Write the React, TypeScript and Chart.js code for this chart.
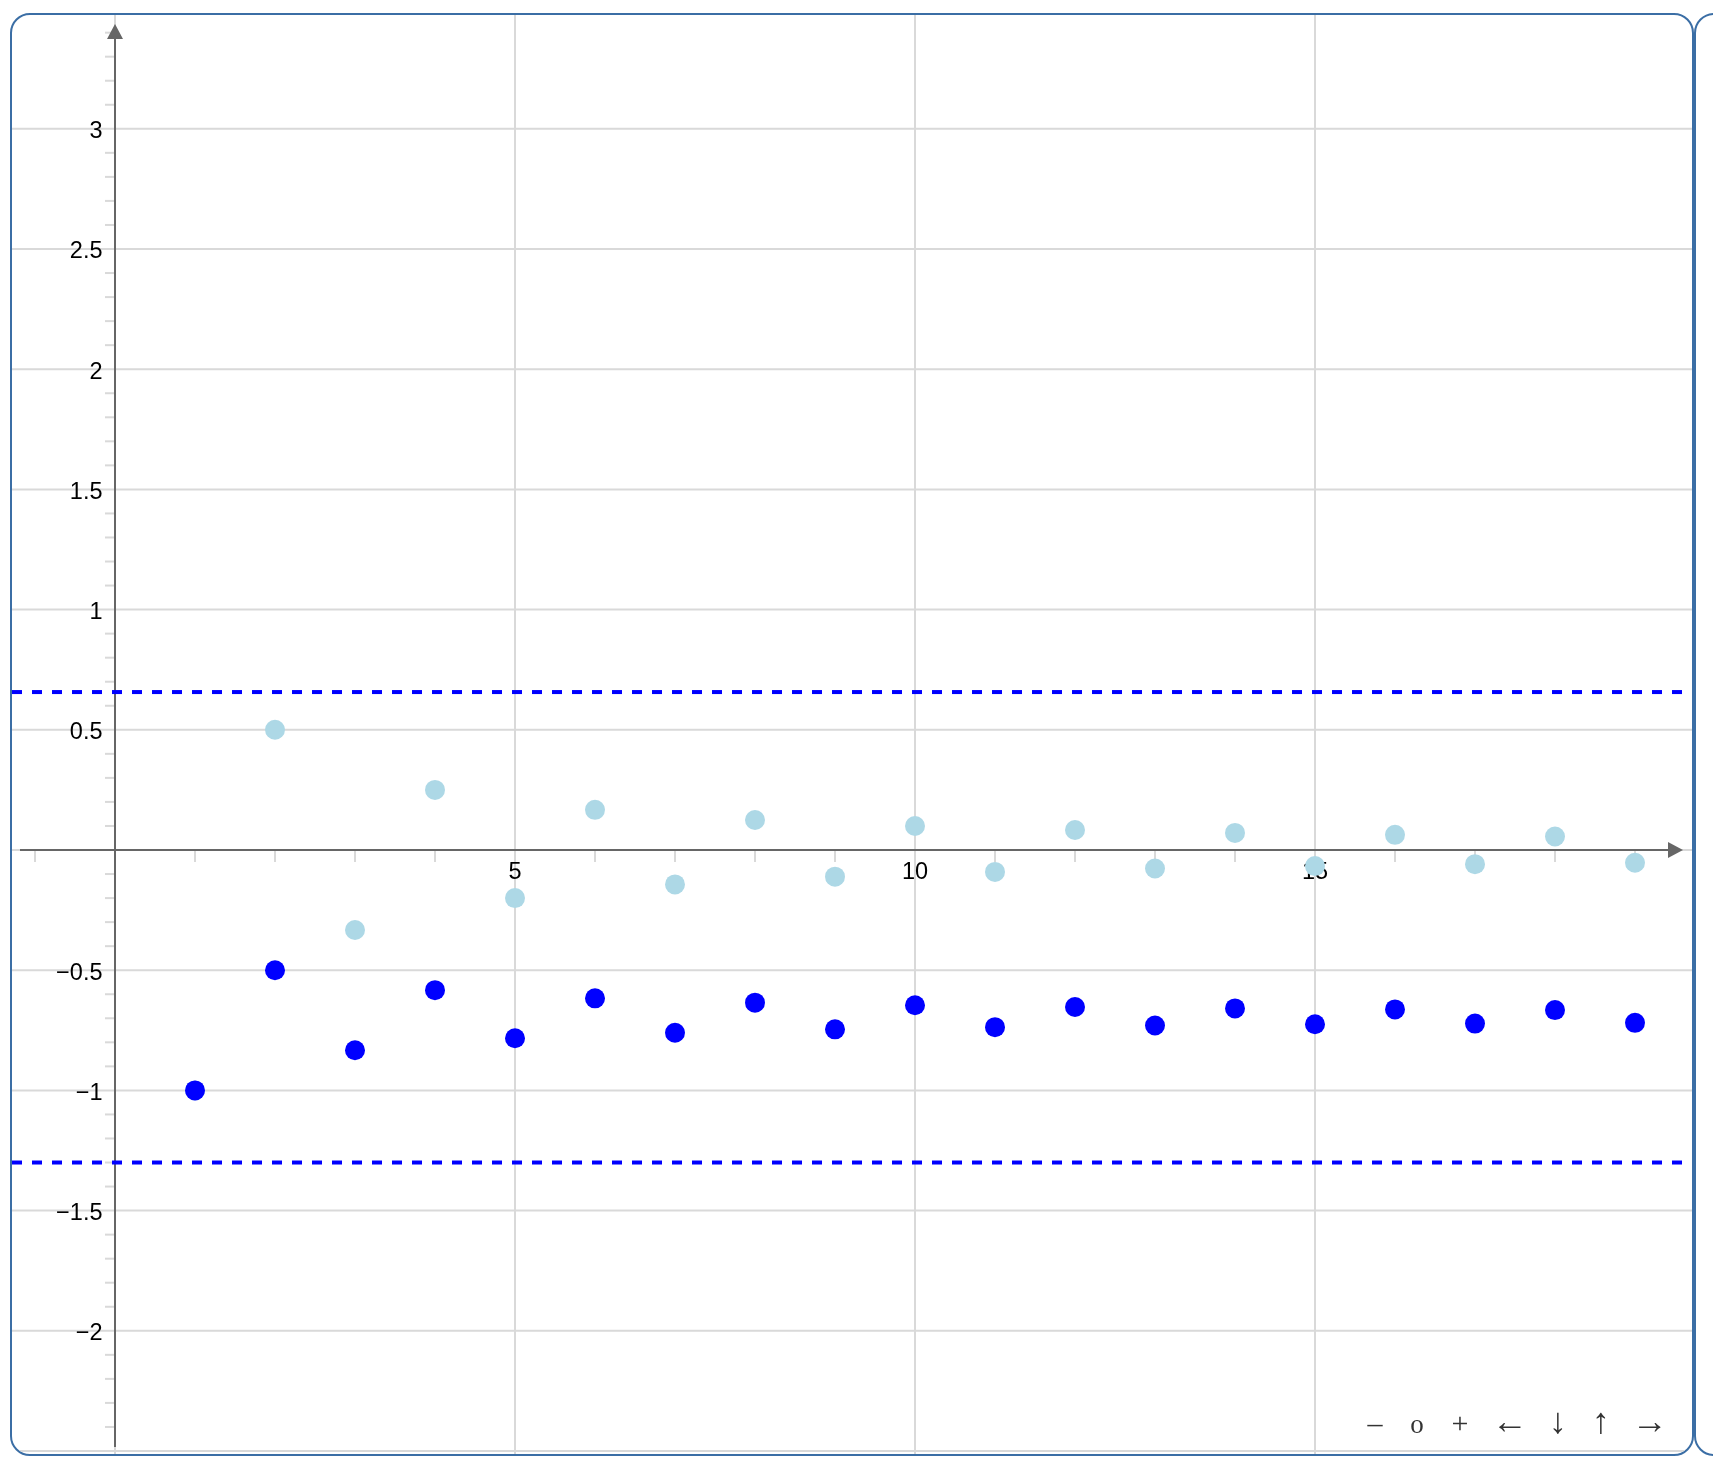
import React, { useEffect, useRef } from "react";
import { Chart, registerables } from "chart.js";

Chart.register(...registerables);

// ---- data ----
const indices = [1, 2, 3, 4, 5, 6, 7, 8, 9, 10, 11, 12, 13, 14, 15, 16, 17, 18, 19];
const termValues = [
  -1, 0.5, -0.333, 0.25, -0.2, 0.167, -0.143, 0.125, -0.111, 0.1, -0.091, 0.083,
  -0.077, 0.071, -0.067, 0.063, -0.059, 0.056, -0.053,
];
const partialSums = [
  -1, -0.5, -0.833, -0.583, -0.783, -0.617, -0.76, -0.635, -0.746, -0.646, -0.737,
  -0.653, -0.73, -0.659, -0.725, -0.663, -0.722, -0.666, -0.719,
];
const upperBound = 0.657;
const lowerBound = -1.3;
const yTickValues = [3, 2.5, 2, 1.5, 1, 0.5, -0.5, -1, -1.5, -2];
const xTickValues = [5, 10, 15];

// ---- view window ----
const X_MIN = -1.2875;
const X_MAX = 19.7125;
const Y_MIN = -2.5125;
const Y_MAX = 3.4734;

const CANVAS_W = 1680;
const CANVAS_H = 1439;

const fmt = (v: number) => String(v).replace("-", "\u2212");

const boardPlugin = {
  id: "board",
  beforeDatasetsDraw(chart: any) {
    const { ctx, chartArea: a, scales } = chart;
    const sx = scales.x;
    const sy = scales.y;
    const x0 = sx.getPixelForValue(0);
    const y0 = sy.getPixelForValue(0);
    ctx.save();
    // grid
    ctx.strokeStyle = "#d9d9d9";
    ctx.lineWidth = 2;
    for (let k = -5; k <= 6; k++) {
      const py = sy.getPixelForValue(k * 0.5);
      ctx.beginPath();
      ctx.moveTo(a.left, py);
      ctx.lineTo(a.right, py);
      ctx.stroke();
    }
    for (let k = 0; k <= 3; k++) {
      const px = sx.getPixelForValue(k * 5);
      ctx.beginPath();
      ctx.moveTo(px, a.top);
      ctx.lineTo(px, a.bottom);
      ctx.stroke();
    }
    // minor ticks y
    for (let k = -24; k <= 34; k++) {
      if (k % 5 === 0) continue;
      const py = sy.getPixelForValue(k / 10);
      ctx.beginPath();
      ctx.moveTo(x0 - 10, py);
      ctx.lineTo(x0, py);
      ctx.stroke();
    }
    // minor ticks x
    for (let k = -1; k <= 19; k++) {
      if (k % 5 === 0) continue;
      const px = sx.getPixelForValue(k);
      ctx.beginPath();
      ctx.moveTo(px, y0);
      ctx.lineTo(px, y0 + 12);
      ctx.stroke();
    }
    // axes
    ctx.strokeStyle = "#666666";
    ctx.fillStyle = "#666666";
    ctx.lineWidth = 2;
    const yTop = a.top + 9;
    const xRight = a.right - 9;
    ctx.beginPath();
    ctx.moveTo(x0, a.bottom - 7);
    ctx.lineTo(x0, yTop + 14);
    ctx.stroke();
    ctx.beginPath();
    ctx.moveTo(x0, yTop);
    ctx.lineTo(x0 - 8, yTop + 15);
    ctx.lineTo(x0 + 8, yTop + 15);
    ctx.closePath();
    ctx.fill();
    ctx.beginPath();
    ctx.moveTo(a.left + 8, y0);
    ctx.lineTo(xRight - 14, y0);
    ctx.stroke();
    ctx.beginPath();
    ctx.moveTo(xRight, y0);
    ctx.lineTo(xRight - 15, y0 - 8);
    ctx.lineTo(xRight - 15, y0 + 8);
    ctx.closePath();
    ctx.fill();
    // labels
    ctx.fillStyle = "#000000";
    ctx.font = "23.5px 'Liberation Sans', Arial, sans-serif";
    ctx.textBaseline = "alphabetic";
    ctx.textAlign = "right";
    for (const v of yTickValues) {
      ctx.fillText(fmt(v), x0 - 12.5, sy.getPixelForValue(v) + 9.4);
    }
    ctx.textAlign = "center";
    for (const v of xTickValues) {
      ctx.fillText(fmt(v), sx.getPixelForValue(v), y0 + 29);
    }
    ctx.restore();
  },
};

export default function App() {
  const ref = useRef<HTMLCanvasElement>(null);
  useEffect(() => {
    if (!ref.current) return;
    const chart = new Chart(ref.current, {
      type: "scatter",
      data: {
        datasets: [
          {
            data: indices.map((n, i) => ({ x: n, y: partialSums[i] })),
            backgroundColor: "#0000ff",
            borderWidth: 0,
            pointRadius: 10,
            order: 0,
          },
          {
            data: indices.map((n, i) => ({ x: n, y: termValues[i] })),
            backgroundColor: "#add8e6",
            borderWidth: 0,
            pointRadius: 10,
            order: 1,
          },
          {
            data: [
              { x: X_MIN, y: upperBound },
              { x: X_MAX, y: upperBound },
            ],
            showLine: true,
            borderColor: "#0000ff",
            borderWidth: 4,
            borderDash: [10, 10],
            pointRadius: 0,
            order: 2,
          },
          {
            data: [
              { x: X_MIN, y: lowerBound },
              { x: X_MAX, y: lowerBound },
            ],
            showLine: true,
            borderColor: "#0000ff",
            borderWidth: 4,
            borderDash: [10, 10],
            pointRadius: 0,
            order: 2,
          },
        ],
      },
      options: {
        animation: false,
        responsive: false,
        devicePixelRatio: 1,
        layout: { padding: 0, autoPadding: false },
        plugins: { legend: { display: false }, tooltip: { enabled: false } },
        events: [],
        scales: {
          x: { type: "linear", min: X_MIN, max: X_MAX, display: false },
          y: { type: "linear", min: Y_MIN, max: Y_MAX, display: false },
        },
      },
      plugins: [boardPlugin],
    });
    return () => chart.destroy();
  }, []);

  const navItems = [
    { t: "\u2013", x: 1375, size: 30, top: 1408 },
    { t: "o", x: 1417, size: 27, top: 1411 },
    { t: "+", x: 1460, size: 30, top: 1408 },
    { t: "\u2190", x: 1510, size: 36, top: 1403 },
    { t: "\u2193", x: 1558, size: 36, top: 1403 },
    { t: "\u2191", x: 1601, size: 36, top: 1403 },
    { t: "\u2192", x: 1650, size: 36, top: 1403 },
  ];

  return (
    <div
      style={{
        position: "absolute",
        left: 0,
        top: 0,
        width: 1713,
        height: 1478,
        overflow: "hidden",
        background: "#ffffff",
      }}
    >
      <div
        style={{
          position: "absolute",
          left: 10,
          top: 13,
          width: 1680,
          height: 1439,
          border: "2px solid #3b6ea5",
          borderRadius: 20,
          overflow: "hidden",
        }}
      >
        <canvas
          ref={ref}
          width={CANVAS_W}
          height={CANVAS_H}
          style={{ display: "block", width: CANVAS_W, height: CANVAS_H }}
        />
      </div>
      <div
        style={{
          position: "absolute",
          left: 1694,
          top: 13,
          width: 300,
          height: 1439,
          border: "2px solid #3b6ea5",
          borderRadius: 20,
        }}
      />
      {navItems.map((it, i) => (
        <span
          key={i}
          style={{
            position: "absolute",
            left: it.x,
            top: it.top,
            transform: "translateX(-50%)",
            fontFamily: "'Liberation Serif', 'Times New Roman', serif",
            fontSize: it.size,
            lineHeight: `${it.size}px`,
            color: "#333333",
            whiteSpace: "nowrap",
          }}
        >
          {it.t}
        </span>
      ))}
    </div>
  );
}
